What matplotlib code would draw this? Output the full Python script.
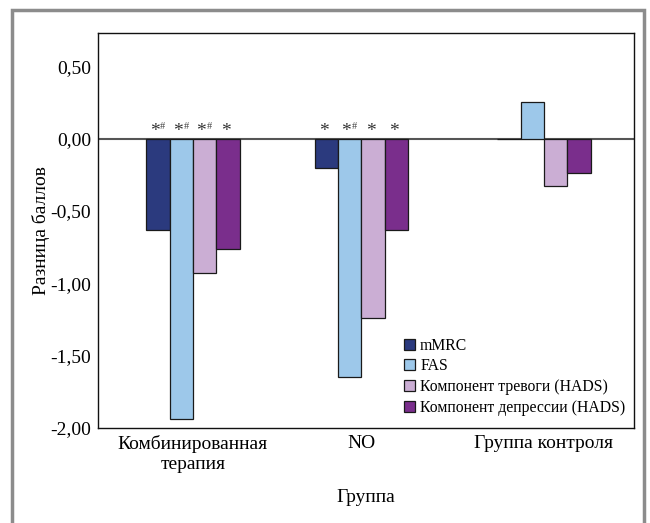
import numpy as np
import matplotlib.pyplot as plt
from matplotlib.patches import Rectangle

plt.rcParams['font.family'] = ['Liberation Serif', 'DejaVu Serif']

groups = ['Комбинированная\nтерапия', 'NO', 'Группа контроля']
group_x = [0.0, 0.96, 2.0]
series = ['mMRC', 'FAS', 'Компонент тревоги (HADS)', 'Компонент депрессии (HADS)']
colors = ['#2b3a7e', '#9dc8ea', '#cbaed4', '#7a2e8c']

mmrc = [-0.63, -0.20, 0.00]
fas = [-1.94, -1.65, 0.25]
anxiety = [-0.93, -1.24, -0.33]
depression = [-0.76, -0.63, -0.24]

# significance marks above each bar
marks_mmrc = ['*#', '*', '']
marks_fas = ['*#', '*#', '']
marks_anxiety = ['*#', '*', '']
marks_depression = ['*', '*', '']

values = [mmrc, fas, anxiety, depression]
marks = [marks_mmrc, marks_fas, marks_anxiety, marks_depression]

fig = plt.figure(figsize=(6.5, 5.23), dpi=100)
ax = fig.add_axes([98 / 650, 1 - 428 / 523, 536 / 650, 395 / 523])

# grey frame around the whole figure, open at the bottom
fig.patches.append(Rectangle((12 / 650, -0.05), 632 / 650, 1.05 - 10 / 523,
                             transform=fig.transFigure, fill=False,
                             edgecolor='#8c8c8c', linewidth=2.5))

w = 0.133
x = np.array(group_x)
ax.axhline(0, color='#555555', linewidth=1.5, zorder=1)
for i, (vals, col, name, mk) in enumerate(zip(values, colors, series, marks)):
    pos = x + (i - 1.5) * w
    ax.bar(pos, vals, width=w, color=col, edgecolor='#1a1a1a',
           linewidth=0.9, label=name, zorder=2)
    for px, m in zip(pos, mk):
        if not m:
            continue
        if '#' in m:
            ax.annotate('*', (px, 0.0), xytext=(-2.5, 5), textcoords='offset points',
                        ha='center', va='center', fontsize=14, color='#333333')
            ax.annotate('#', (px, 0.0), xytext=(3.5, 9), textcoords='offset points',
                        ha='center', va='center', fontsize=7.5, color='#444444')
        else:
            ax.annotate('*', (px, 0.0), xytext=(-1.5, 5), textcoords='offset points',
                        ha='center', va='center', fontsize=14, color='#333333')

ax.set_xlim(-0.541, 2.513)
ax.set_ylim(-2.0, 0.73)
ax.set_yticks([0.5, 0.0, -0.5, -1.0, -1.5, -2.0])
ax.set_yticklabels(['0,50', '0,00', '-0,50', '-1,00', '-1,50', '-2,00'])
ax.set_xticks(group_x)
ax.set_xticklabels(groups)
ax.tick_params(length=0, labelsize=14, pad=5)
for s in ax.spines.values():
    s.set_linewidth(1.0)
    s.set_color('#111111')

ax.set_ylabel('Разница баллов', fontsize=14, labelpad=0)
ax.set_xlabel('Группа', fontsize=14, labelpad=12)

leg = ax.legend(loc='upper left', bbox_to_anchor=(0.56, 0.245), frameon=False,
                fontsize=11.3, handlelength=0.7, handleheight=0.7,
                handletextpad=0.3, labelspacing=0.3, borderaxespad=0)

fig.savefig('out.png', dpi=100)
